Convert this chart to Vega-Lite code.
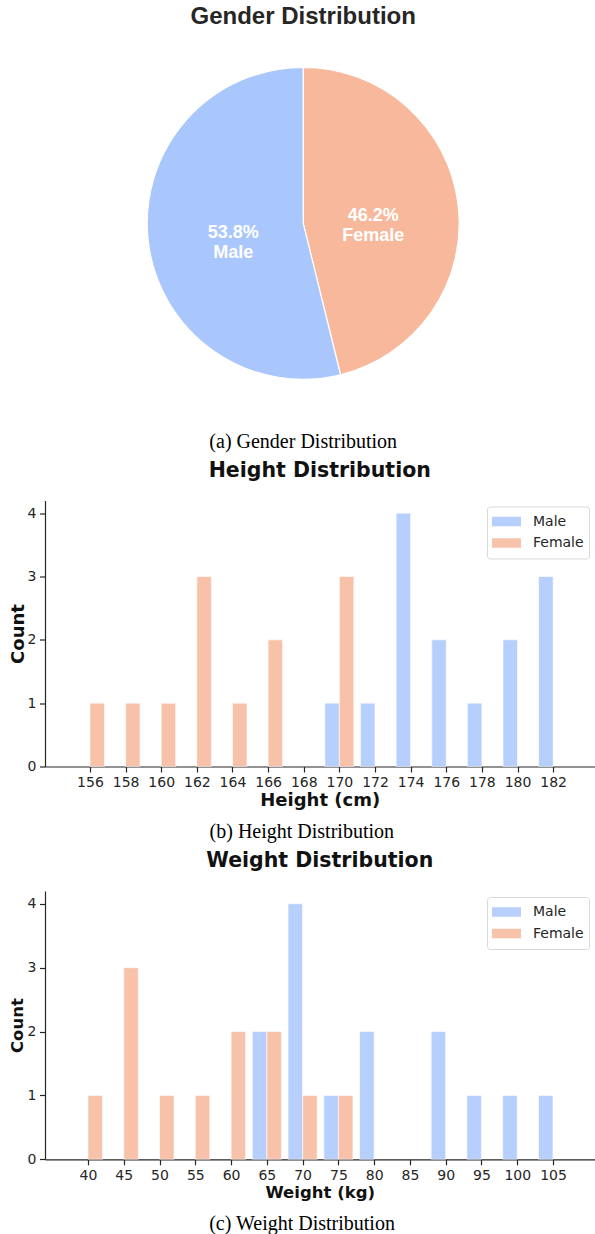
{
  "$schema": "https://vega.github.io/schema/vega-lite/v6.json",
  "padding": {"left": 9, "right": 0, "top": 5, "bottom": 0},
  "spacing": 8.5,
  "background": "white",
  "config": {
    "view": {"stroke": null},
    "font": "DejaVu Sans",
    "axis": {
      "grid": false,
      "domainColor": "#262626",
      "domainWidth": 1.2,
      "tickColor": "#262626",
      "tickWidth": 1.2,
      "tickSize": 5.5,
      "labelFont": "DejaVu Sans",
      "labelFontSize": 14,
      "labelColor": "#262626",
      "labelPadding": 3.5,
      "labelFlush": false,
      "titleFont": "DejaVu Sans",
      "titleFontWeight": "bold",
      "titleColor": "#111111"
    }
  },
  "resolve": {
    "scale": {"color": "independent", "x": "independent", "y": "independent"},
    "legend": {"color": "independent"}
  },
  "datasets": {
    "gender": [
      {"gender": "Female", "count": 12, "pct": "46.2%"},
      {"gender": "Male", "count": 14, "pct": "53.8%"}
    ],
    "height": [
      {"height": 156, "gender": "Female", "count": 1},
      {"height": 158, "gender": "Female", "count": 1},
      {"height": 160, "gender": "Female", "count": 1},
      {"height": 162, "gender": "Female", "count": 3},
      {"height": 164, "gender": "Female", "count": 1},
      {"height": 166, "gender": "Female", "count": 2},
      {"height": 170, "gender": "Female", "count": 3},
      {"height": 170, "gender": "Male", "count": 1},
      {"height": 172, "gender": "Male", "count": 1},
      {"height": 174, "gender": "Male", "count": 4},
      {"height": 176, "gender": "Male", "count": 2},
      {"height": 178, "gender": "Male", "count": 1},
      {"height": 180, "gender": "Male", "count": 2},
      {"height": 182, "gender": "Male", "count": 3}
    ],
    "weight": [
      {"weight": 40, "gender": "Female", "count": 1},
      {"weight": 45, "gender": "Female", "count": 3},
      {"weight": 50, "gender": "Female", "count": 1},
      {"weight": 55, "gender": "Female", "count": 1},
      {"weight": 60, "gender": "Female", "count": 2},
      {"weight": 65, "gender": "Female", "count": 2},
      {"weight": 70, "gender": "Female", "count": 1},
      {"weight": 75, "gender": "Female", "count": 1},
      {"weight": 65, "gender": "Male", "count": 2},
      {"weight": 70, "gender": "Male", "count": 4},
      {"weight": 75, "gender": "Male", "count": 1},
      {"weight": 80, "gender": "Male", "count": 2},
      {"weight": 90, "gender": "Male", "count": 2},
      {"weight": 95, "gender": "Male", "count": 1},
      {"weight": 100, "gender": "Male", "count": 1},
      {"weight": 105, "gender": "Male", "count": 1}
    ]
  },
  "vconcat": [
    {
      "title": {"text": "(a) Gender Distribution", "orient": "bottom", "anchor": "middle", "frame": "bounds", "font": "Liberation Serif", "fontSize": 20, "fontWeight": "normal", "color": "#000000", "baseline": "alphabetic", "offset": 50},
      "resolve": {"scale": {"color": "independent"}, "legend": {"color": "independent"}},
      "vconcat": [
        {
          "title": {"text": "Gender Distribution", "anchor": "middle", "font": "Liberation Sans", "fontSize": 24, "fontWeight": "bold", "color": "#262626", "baseline": "alphabetic", "offset": 1},
          "width": 516.4,
          "height": 348.6,
          "data": {"name": "gender"},
          "encoding": {
            "theta": {"field": "count", "type": "quantitative", "stack": true},
            "order": {"field": "gender", "sort": "ascending"}
          },
          "layer": [
            {
              "mark": {"type": "arc", "radius": 156, "stroke": "white", "strokeWidth": 1.2},
              "encoding": {
                "color": {"field": "gender", "type": "nominal", "scale": {"domain": ["Female", "Male"], "range": ["#f7b89c", "#aac7fd"]}, "legend": null}
              }
            },
            {
              "mark": {"type": "text", "radius": 70.5, "dy": 6, "font": "Liberation Sans", "fontSize": 18, "fontWeight": "bold", "fill": "white", "baseline": "alphabetic", "align": "center"},
              "encoding": {"text": {"field": "pct"}}
            },
            {
              "mark": {"type": "text", "radius": 70.5, "dy": 26, "font": "Liberation Sans", "fontSize": 18, "fontWeight": "bold", "fill": "white", "baseline": "alphabetic", "align": "center"},
              "encoding": {"text": {"field": "gender"}}
            }
          ]
        }
      ]
    },
    {
      "title": {"text": "(b) Height Distribution", "orient": "bottom", "anchor": "middle", "frame": "bounds", "font": "Liberation Serif", "fontSize": 20, "fontWeight": "normal", "color": "#000000", "baseline": "alphabetic", "offset": 28},
      "resolve": {"scale": {"color": "independent"}, "legend": {"color": "independent"}},
      "vconcat": [
        {
          "title": {"text": "Height Distribution", "anchor": "middle", "frame": "group", "font": "DejaVu Sans", "fontSize": 20.5, "fontWeight": "bold", "color": "#111111", "baseline": "alphabetic", "offset": 2.8},
          "width": 549.5,
          "height": 266,
          "data": {"name": "height"},
          "encoding": {
            "x": {"field": "height", "type": "quantitative", "scale": {"domain": [153.757, 184.04], "nice": false, "zero": false},
                  "axis": {"values": [156, 158, 160, 162, 164, 166, 168, 170, 172, 174, 176, 178, 180, 182], "title": "Height (cm)", "titleFontSize": 18, "titlePadding": 2}},
            "y": {"field": "count", "type": "quantitative", "scale": {"domain": [0, 4.2], "nice": false},
                  "axis": {"values": [0, 1, 2, 3, 4], "title": "Count", "titleFontSize": 18, "titlePadding": 0}},
            "color": {"field": "gender", "type": "nominal", "scale": {"domain": ["Male", "Female"], "range": ["#aac7fd", "#f7b89c"]},
                      "legend": {"title": null, "orient": "top-right", "offset": 6, "fillColor": "white", "strokeColor": "#d9d9d9", "cornerRadius": 3, "padding": 5,
                                 "symbolType": "M-1,-0.33L1,-0.33L1,0.33L-1,0.33Z", "symbolSize": 841, "symbolStrokeWidth": 0, "symbolOpacity": 0.85,
                                 "labelFont": "DejaVu Sans", "labelFontSize": 14, "labelColor": "#262626", "labelOffset": 12, "clipHeight": 20, "rowPadding": 1.5}}
          },
          "layer": [
            {"transform": [{"filter": "datum.gender === 'Male'"}],
             "mark": {"type": "bar", "width": 14.5, "xOffset": -7.26, "opacity": 0.85, "stroke": "white", "strokeWidth": 0.6}},
            {"transform": [{"filter": "datum.gender === 'Female'"}],
             "mark": {"type": "bar", "width": 14.5, "xOffset": 7.26, "opacity": 0.85, "stroke": "white", "strokeWidth": 0.6}}
          ]
        }
      ]
    },
    {
      "title": {"text": "(c) Weight Distribution", "orient": "bottom", "anchor": "middle", "frame": "bounds", "font": "Liberation Serif", "fontSize": 20, "fontWeight": "normal", "color": "#000000", "baseline": "alphabetic", "offset": 29},
      "resolve": {"scale": {"color": "independent"}, "legend": {"color": "independent"}},
      "vconcat": [
        {
          "title": {"text": "Weight Distribution", "anchor": "middle", "frame": "group", "font": "DejaVu Sans", "fontSize": 20.5, "fontWeight": "bold", "color": "#111111", "baseline": "alphabetic", "offset": 3.7},
          "width": 549.5,
          "height": 268.3,
          "data": {"name": "weight"},
          "encoding": {
            "x": {"field": "weight", "type": "quantitative", "scale": {"domain": [34.69, 110.1], "nice": false, "zero": false},
                  "axis": {"values": [40, 45, 50, 55, 60, 65, 70, 75, 80, 85, 90, 95, 100, 105], "title": "Weight (kg)", "titleFontSize": 16.5, "titlePadding": 2}},
            "y": {"field": "count", "type": "quantitative", "scale": {"domain": [0, 4.2], "nice": false},
                  "axis": {"values": [0, 1, 2, 3, 4], "title": "Count", "titleFontSize": 16.5, "titlePadding": 1.5}},
            "color": {"field": "gender", "type": "nominal", "scale": {"domain": ["Male", "Female"], "range": ["#aac7fd", "#f7b89c"]},
                      "legend": {"title": null, "orient": "top-right", "offset": 6, "fillColor": "white", "strokeColor": "#d9d9d9", "cornerRadius": 3, "padding": 5,
                                 "symbolType": "M-1,-0.33L1,-0.33L1,0.33L-1,0.33Z", "symbolSize": 841, "symbolStrokeWidth": 0, "symbolOpacity": 0.85,
                                 "labelFont": "DejaVu Sans", "labelFontSize": 14, "labelColor": "#262626", "labelOffset": 12, "clipHeight": 20, "rowPadding": 1.5}}
          },
          "layer": [
            {"transform": [{"filter": "datum.gender === 'Male'"}],
             "mark": {"type": "bar", "width": 14.5, "xOffset": -7.29, "opacity": 0.85, "stroke": "white", "strokeWidth": 0.6}},
            {"transform": [{"filter": "datum.gender === 'Female'"}],
             "mark": {"type": "bar", "width": 14.5, "xOffset": 7.29, "opacity": 0.85, "stroke": "white", "strokeWidth": 0.6}}
          ]
        }
      ]
    }
  ]
}
